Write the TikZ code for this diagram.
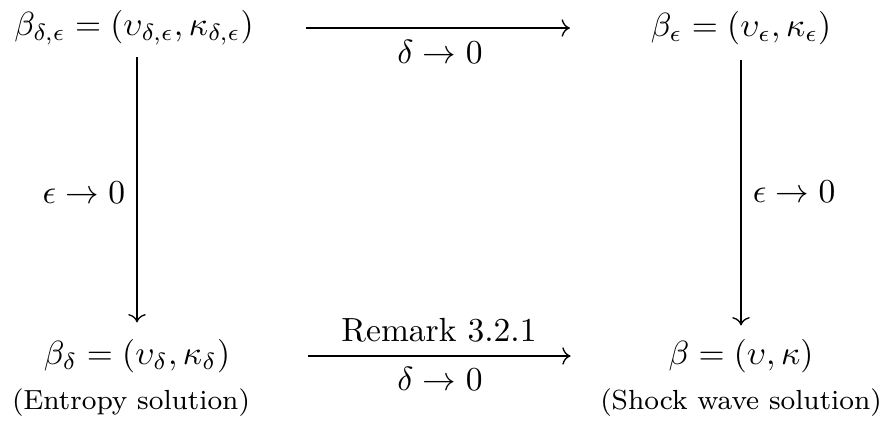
\documentclass[tikz,border=0pt]{standalone}
\usepackage{amsmath}
\usepackage{amsfonts, amssymb}
\usetikzlibrary{arrows.meta, calc}

\begin{document}
\begin{tikzpicture}[x=0.2985pt, y=-0.2985pt]
\useasboundingbox (0,0) rectangle (888,425);

% Corners of the square
\node (bde) at (134,28) {$\beta_{\delta,\epsilon} = (\upsilon_{\delta,\epsilon}, \kappa_{\delta,\epsilon})$};
\node (be) at (741,28) {$\beta_{\epsilon} = (\upsilon_{\epsilon}, \kappa_{\epsilon})$};
\node (bd) at (137,356) {$\beta_{\delta} = (\upsilon_{\delta}, \kappa_{\delta})$};
\node (b) at (741,356) {$\beta = (\upsilon, \kappa)$};

% Names below the bottom row
\node[font=\fontsize{8.25}{10}\selectfont] (ent) at (131,403) {(Entropy solution)};
\node[font=\fontsize{8.25}{10}\selectfont] (shock) at (741,403) {(Shock wave solution)};

% Limit in delta (top and bottom)
\draw[->, shorten <=12.2pt, shorten >=20.6pt] (bde) -- (be);
\draw[->, shorten <=19.7pt, shorten >=25.7pt] (bd) -- (b);

% Labels of the horizontal arrows
\node (dtop) at (440,52) {$\delta \to 0$};
\node (rem) at (439,330) {Remark 3.2.1};
\node (dbot) at (440,379) {$\delta \to 0$};

% Limit in epsilon (left and right)
\draw[->, shorten >=1.5pt] (bde.south -| bd) -- (bd)
    node[midway, left] {$\epsilon \to 0$};
\draw[->, shorten <=1pt, shorten >=0.6pt] (be) -- (b)
    node[midway, right] {$\epsilon \to 0$};

\end{tikzpicture}
\end{document}
